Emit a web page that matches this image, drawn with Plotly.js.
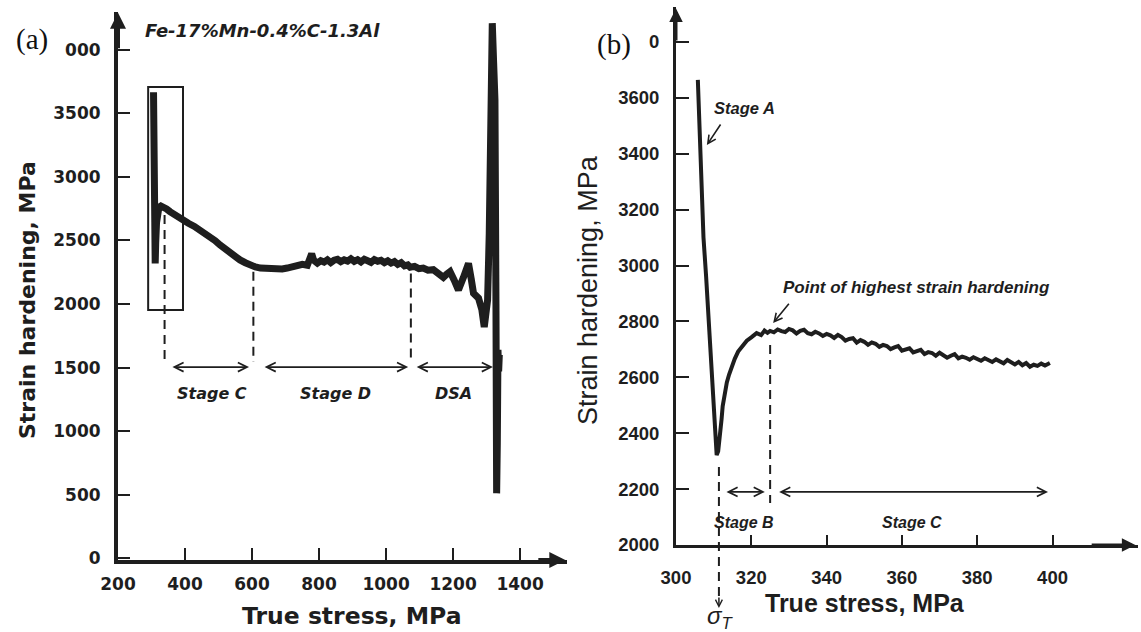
<!DOCTYPE html>
<html>
<head>
<meta charset="utf-8">
<script src="https://cdn.plot.ly/plotly-3.0.1.min.js"></script>
<style>html,body{margin:0;padding:0;background:#fff;}#chart{width:1141px;height:632px;}</style>
</head>
<body>
<div id="chart"></div>
<script>
// ---- Panel (a): Fe-17%Mn-0.4%C-1.3Al, full curve ----
const leftStress = [306, 307, 308.5, 310, 311, 312.5, 315, 318, 322, 328, 335, 345, 355, 368, 380, 395, 410, 428, 445, 460, 475, 490, 504, 520, 534, 550, 564, 580, 594, 610, 625, 640, 655, 674, 690, 705, 720, 735, 750, 765, 772, 778, 784, 795, 805, 815, 825, 835, 845, 855, 865, 875, 885, 895, 905, 915, 925, 935, 945, 955, 965, 975, 985, 995, 1005, 1015, 1025, 1035, 1045, 1055, 1065, 1072, 1085, 1098, 1111, 1125, 1141, 1155, 1171, 1181, 1191, 1203, 1216, 1231, 1246, 1254, 1261, 1276, 1286, 1293, 1298, 1303, 1308, 1312, 1317, 1321, 1325, 1328, 1330, 1332, 1334, 1336, 1338];
const leftHardening = [3665, 3200, 2800, 2450, 2320, 2480, 2640, 2720, 2760, 2770, 2766, 2748, 2727, 2702, 2676, 2655, 2635, 2610, 2583, 2558, 2530, 2498, 2465, 2430, 2399, 2372, 2347, 2325, 2307, 2292, 2283, 2280, 2270, 2268, 2276, 2283, 2290, 2296, 2312, 2305, 2340, 2395, 2345, 2322, 2341, 2330, 2348, 2326, 2345, 2352, 2333, 2347, 2338, 2356, 2336, 2349, 2331, 2352, 2340, 2328, 2350, 2337, 2344, 2326, 2340, 2322, 2334, 2312, 2325, 2300, 2308, 2290, 2296, 2278, 2283, 2266, 2270, 2240, 2210, 2235, 2255, 2190, 2110, 2210, 2320, 2200, 2085, 2046, 1954, 1820, 1900, 2032, 2557, 3605, 4208, 3900, 3605, 2000, 512, 900, 1640, 1470, 1600];
const leftXTicks = [200, 400, 600, 800, 1000, 1200, 1400];
const leftYTicks = [0, 500, 1000, 1500, 2000, 2500, 3000, 3500, 4000];
const leftYTickText = ['0', '500', '1000', '1500', '2000', '2500', '3000', '3500', '000'];
const leftStageLabels = ['Stage C', 'Stage D', 'DSA'];
const leftStageTextX = [481, 848, 1200];
const leftStageFrom = [358, 633, 1087];
const leftStageTo = [591, 1066, 1319];
const leftDashX = [339, 604, 1074];
const leftDashTop = [2700, 2255, 2240];

// ---- Panel (b): zoom on the start of the curve ----
const rightStress = [305.8, 306.5, 307.3, 308.0, 308.6, 309.5, 310.4, 310.8, 311.2, 311.7, 312.1, 312.4, 312.9, 313.5, 314.1, 314.8, 315.6, 316.5, 317.6, 318.8, 320.0, 321.4, 322.6, 323.5, 324.3, 325, 326, 327, 328, 329, 330, 331, 332, 333, 334, 335, 336, 337, 338, 339, 340, 341, 342, 343, 344, 345, 346, 347, 348, 349, 350, 351, 352, 353, 354, 355, 356, 357, 358, 359, 360, 361, 362, 363, 364, 365, 366, 367, 368, 369, 370, 371, 372, 373, 374, 375, 376, 377, 378, 379, 380, 381, 382, 383, 384, 385, 386, 387, 388, 389, 390, 391, 392, 393, 394, 395, 396, 397, 398, 399.3];
const rightHardening = [3664, 3400, 3100, 2960, 2817, 2578, 2387, 2322, 2335, 2387, 2450, 2497, 2540, 2582, 2610, 2642, 2666, 2692, 2710, 2731, 2743, 2758, 2751, 2767, 2759, 2766, 2761, 2771, 2765, 2762, 2773, 2768, 2757, 2766, 2770, 2758, 2754, 2763, 2757, 2748, 2755, 2750, 2741, 2752, 2744, 2731, 2737, 2740, 2724, 2733, 2727, 2716, 2725, 2720, 2709, 2716, 2712, 2701, 2707, 2712, 2695, 2699, 2704, 2689, 2694, 2698, 2683, 2690, 2687, 2677, 2688, 2681, 2670, 2677, 2683, 2668, 2674, 2670, 2663, 2672, 2666, 2659, 2668, 2661, 2655, 2664, 2658, 2650, 2662, 2652, 2646, 2655, 2643, 2651, 2638, 2645, 2641, 2649, 2642, 2651];
const rightXTicks = [300, 320, 340, 360, 380, 400];
const rightYTicks = [2000, 2200, 2400, 2600, 2800, 3000, 3200, 3400, 3600, 3800];
const rightYTickText = ['2000', '2200', '2400', '2600', '2800', '3000', '3200', '3400', '3600', '0'];

const INK = '#1e1e1e';
const W = 1141, H = 632;
const px = v => v / W;
const py = v => 1 - v / H;
const DJ = 'DejaVu Sans, Verdana, sans-serif';
const AR = 'Arial, Liberation Sans, sans-serif';

const traces = [
  {x: leftStress, y: leftHardening, xaxis: 'x', yaxis: 'y', mode: 'lines',
   line: {color: INK, width: 7}, hoverinfo: 'skip'},
  {x: rightStress, y: rightHardening, xaxis: 'x2', yaxis: 'y2', mode: 'lines',
   line: {color: INK, width: 4}, hoverinfo: 'skip'}
];

function axisStyle(extra) {
  return Object.assign({
    showline: true, linecolor: INK, showgrid: false, zeroline: false,
    ticks: 'inside', tickcolor: INK, tickwidth: 2, ticklen: 12,
    fixedrange: true, automargin: false
  }, extra);
}

function txt(xv, yv, text, font, extra) {
  return Object.assign({xref: 'paper', yref: 'paper', x: px(xv), y: py(yv), text: text,
    showarrow: false, xanchor: 'center', yanchor: 'middle', font: font}, extra || {});
}

const shapes = [];
const annotations = [];

// box around the early part in (a)
shapes.push({type: 'rect', xref: 'x', yref: 'y', x0: 290, x1: 394, y0: 1954, y1: 3707,
  line: {color: INK, width: 2}});

// dashed verticals in (a)
leftDashX.forEach((xv, i) => {
  shapes.push({type: 'line', xref: 'x', yref: 'y', x0: xv, x1: xv, y0: leftDashTop[i], y1: 1545,
    line: {color: INK, width: 2, dash: '9px,6px'}});
});
// stage arrows + labels in (a)
leftStageLabels.forEach((lab, i) => {
  annotations.push({xref: 'x', yref: 'y', axref: 'x', ayref: 'y',
    x: leftStageTo[i], y: 1505, ax: leftStageFrom[i], ay: 1505, text: '',
    showarrow: true, arrowhead: 5, startarrowhead: 5, arrowside: 'end+start',
    arrowsize: 1, startarrowsize: 1, arrowwidth: 1.8, arrowcolor: INK});
  annotations.push({xref: 'x', yref: 'y', x: leftStageTextX[i], y: 1300, text: lab, showarrow: false,
    xanchor: 'center', yanchor: 'middle',
    font: {family: DJ, size: 16, color: INK, weight: 'bold', style: 'italic'}});
});

// axis arrowheads (a)
annotations.push({xref: 'x', yref: 'y', axref: 'x', ayref: 'y', x: 200, y: 4290, ax: 200, ay: 4000,
  text: '', showarrow: true, arrowhead: 2, arrowsize: 0.8, arrowwidth: 4, arrowcolor: INK});
annotations.push({xref: 'x', yref: 'y', axref: 'x', ayref: 'y', x: 1535, y: -12, ax: 1450, ay: -12,
  text: '', showarrow: true, arrowhead: 2, arrowsize: 0.8, arrowwidth: 4, arrowcolor: INK});

// texts (a)
annotations.push(txt(143, 30, 'Fe-17%Mn-0.4%C-1.3Al',
  {family: DJ, size: 18, color: INK, weight: 'bold', style: 'italic'}, {xanchor: 'left'}));
annotations.push(txt(32, 39, '(a)', {family: 'Liberation Serif, Times New Roman, serif', size: 29, color: '#111'}));
annotations.push(txt(27, 300, 'Strain hardening, MPa', {family: DJ, size: 22, color: INK, weight: 'bold'}, {textangle: -90}));
annotations.push(txt(352, 616, 'True stress, MPa', {family: DJ, size: 23.5, color: INK, weight: 'bold'}));

// ---- (b) annotations ----
// sigma_T dashed line
shapes.push({type: 'line', xref: 'x2', yref: 'paper', x0: 311.4, x1: 311.4, y0: py(467), y1: py(598),
  line: {color: INK, width: 2, dash: '9px,6px'}});
annotations.push({xref: 'x2', yref: 'paper', axref: 'x2', ayref: 'paper', x: 311.4, y: py(608), ax: 311.4, ay: py(596),
  text: '', showarrow: true, arrowhead: 5, arrowsize: 0.9, arrowwidth: 1.5, arrowcolor: INK});
// dashed at 325
shapes.push({type: 'line', xref: 'x2', yref: 'y2', x0: 325, x1: 325, y0: 2716, y1: 2150,
  line: {color: INK, width: 2, dash: '9px,6px'}});
// stage arrows
annotations.push({xref: 'x2', yref: 'y2', axref: 'x2', ayref: 'y2', x: 323.6, y: 2190, ax: 313, ay: 2190,
  text: '', showarrow: true, arrowhead: 5, startarrowhead: 5, arrowside: 'end+start',
  arrowsize: 1, startarrowsize: 1, arrowwidth: 1.8, arrowcolor: INK});
annotations.push({xref: 'x2', yref: 'y2', axref: 'x2', ayref: 'y2', x: 398.8, y: 2190, ax: 327, ay: 2190,
  text: '', showarrow: true, arrowhead: 5, startarrowhead: 5, arrowside: 'end+start',
  arrowsize: 1, startarrowsize: 1, arrowwidth: 1.8, arrowcolor: INK});
annotations.push({xref: 'x2', yref: 'y2', x: 318, y: 2079, text: 'Stage B', showarrow: false,
  xanchor: 'center', yanchor: 'middle',
  font: {family: AR, size: 16, color: INK, weight: 'bold', style: 'italic'}});
annotations.push({xref: 'x2', yref: 'y2', x: 362.8, y: 2079, text: 'Stage C', showarrow: false,
  xanchor: 'center', yanchor: 'middle',
  font: {family: AR, size: 16, color: INK, weight: 'bold', style: 'italic'}});
// Stage A
annotations.push({xref: 'x2', yref: 'y2', x: 318.1, y: 3562, text: 'Stage A', showarrow: false,
  xanchor: 'center', yanchor: 'middle',
  font: {family: AR, size: 16.5, color: INK, weight: 'bold', style: 'italic'}});
annotations.push({xref: 'x2', yref: 'y2', axref: 'x2', ayref: 'y2', x: 308.2, y: 3431, ax: 312.1, ay: 3510,
  text: '', showarrow: true, arrowhead: 5, arrowsize: 1, arrowwidth: 1.6, arrowcolor: INK});
// Point of highest strain hardening
annotations.push({xref: 'x2', yref: 'y2', x: 363.9, y: 2923, text: 'Point of highest strain hardening', showarrow: false,
  xanchor: 'center', yanchor: 'middle',
  font: {family: AR, size: 17, color: INK, weight: 'bold', style: 'italic'}});
annotations.push({xref: 'x2', yref: 'y2', axref: 'x2', ayref: 'y2', x: 325.8, y: 2794, ax: 330.3, ay: 2869,
  text: '', showarrow: true, arrowhead: 5, arrowsize: 1, arrowwidth: 1.6, arrowcolor: INK});
// axis arrowheads (b)
annotations.push({xref: 'x2', yref: 'y2', axref: 'x2', ayref: 'y2', x: 300, y: 3920, ax: 300, ay: 3800,
  text: '', showarrow: true, arrowhead: 2, arrowsize: 0.9, arrowwidth: 3, arrowcolor: INK});
annotations.push({xref: 'x2', yref: 'y2', axref: 'x2', ayref: 'y2', x: 422, y: 2000, ax: 410, ay: 2000,
  text: '', showarrow: true, arrowhead: 2, arrowsize: 0.9, arrowwidth: 3, arrowcolor: INK});
// texts (b)
annotations.push(txt(614, 44, '(b)', {family: 'Liberation Serif, Times New Roman, serif', size: 29, color: '#111'}));
annotations.push(txt(588, 290, 'Strain hardening, MPa', {family: AR, size: 27, color: INK}, {textangle: -90}));
annotations.push(txt(865, 603, 'True stress, MPa', {family: AR, size: 25, color: INK, weight: 'bold'}));
annotations.push(txt(720, 617, '<i>σ<sub>T</sub></i>', {family: AR, size: 24, color: INK}));

const layout = {
  width: W, height: H,
  margin: {l: 0, r: 0, t: 0, b: 0, pad: 0},
  paper_bgcolor: '#ffffff', plot_bgcolor: 'rgba(0,0,0,0)',
  showlegend: false,
  xaxis: axisStyle({domain: [px(118), px(567)], range: [200, 1540], anchor: 'y', linewidth: 4,
    tickvals: leftXTicks, ticklabelstandoff: 6,
    tickfont: {family: DJ, size: 17, color: INK, weight: 'bold'}}),
  yaxis: axisStyle({domain: [py(560), py(12)], range: [-12, 4296], anchor: 'x', linewidth: 4,
    tickvals: leftYTicks, ticktext: leftYTickText, ticklabelstandoff: 10,
    tickfont: {family: DJ, size: 17, color: INK, weight: 'bold'}}),
  xaxis2: axisStyle({domain: [px(676), px(1138)], range: [300, 422.7], anchor: 'y2', linewidth: 3,
    tickvals: rightXTicks, ticklen: 10, ticklabelstandoff: 14,
    tickfont: {family: AR, size: 18.5, color: INK, weight: 'bold'}}),
  yaxis2: axisStyle({domain: [py(545), py(7)], range: [2000, 3925], anchor: 'x2', linewidth: 3,
    tickvals: rightYTicks, ticktext: rightYTickText, ticklen: 13, ticklabelstandoff: 10,
    tickfont: {family: AR, size: 18.5, color: INK, weight: 'bold'}}),
  shapes: shapes,
  annotations: annotations
};

Plotly.newPlot('chart', traces, layout, {staticPlot: true, displayModeBar: false});
</script>
</body>
</html>
